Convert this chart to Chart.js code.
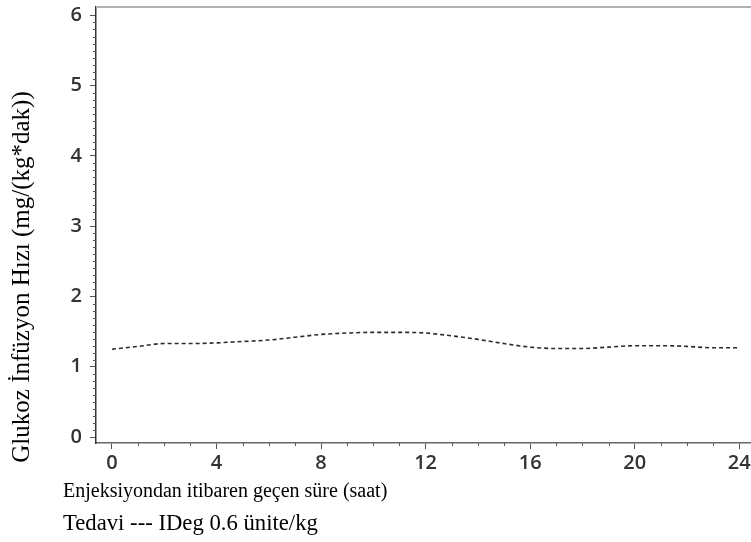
<!DOCTYPE html>
<html lang="tr">
<head>
  <meta charset="UTF-8" />
  <title>Glukoz İnfüzyon Hızı</title>
  <script src="https://cdn.jsdelivr.net/npm/chart.js"></script>
  <style>
    html, body { margin: 0; padding: 0; background: #fff; }
    #kutu { width: 751px; height: 542px; }
  </style>
</head>
<body>
<div id="kutu"><canvas id="graf"></canvas></div>
<script>
  // veriler
  const saatler = [0, 1, 2, 3, 4, 5, 6, 7, 8, 9, 10, 11, 12, 13, 14, 15, 16, 17, 18, 19, 20, 21, 22, 23, 24];
  const gir = [1.25, 1.29, 1.33, 1.33, 1.34, 1.36, 1.38, 1.42, 1.46, 1.48, 1.49, 1.49, 1.48, 1.44, 1.39, 1.33, 1.28, 1.26, 1.26, 1.28, 1.30, 1.30, 1.29, 1.27, 1.27];
  const xTicks = [0, 4, 8, 12, 16, 20, 24];
  const yTicks = [0, 1, 2, 3, 4, 5, 6];

  const yBaslik = 'Glukoz İnfüzyon Hızı (mg/(kg*dak))';
  const xBaslik = 'Enjeksiyondan itibaren geçen süre (saat)';
  const aciklama = 'Tedavi --- IDeg 0.6 ünite/kg';

  const serif = '"Liberation Serif", "Times New Roman", serif';
  const tickFont = { family: '"Open Sans"', size: 20, weight: '600' };

  // küçük çentikler ve metinler
  const ekler = {
    id: 'ekler',
    afterDraw(chart) {
      const ctx = chart.ctx;
      const a = chart.chartArea;
      const xs = chart.scales.x, ys = chart.scales.y;
      ctx.save();
      // üst çerçeve
      ctx.strokeStyle = '#b0b0b0';
      ctx.lineWidth = 2;
      ctx.beginPath();
      ctx.moveTo(a.left, a.top);
      ctx.lineTo(a.right, a.top);
      ctx.stroke();
      // küçük çentikler
      ctx.strokeStyle = '#555';
      ctx.lineWidth = 1;
      ctx.beginPath();
      for (let h = 0; h <= 24; h++) {
        if (h % 4 === 0) continue;
        const px = Math.round(xs.getPixelForValue(h)) + 0.5;
        ctx.moveTo(px, a.bottom);
        ctx.lineTo(px, a.bottom + 3);
      }
      for (let i = 0; i <= 60; i++) {
        if (i % 10 === 0) continue;
        const py = Math.round(ys.getPixelForValue(i / 10)) + 0.5;
        ctx.moveTo(a.left, py);
        ctx.lineTo(a.left - 3, py);
      }
      ctx.stroke();
      // başlıklar
      ctx.fillStyle = '#000';
      ctx.font = '20px ' + serif;
      ctx.textAlign = 'left';
      ctx.textBaseline = 'alphabetic';
      ctx.fillText(xBaslik, 63, 497);
      ctx.font = '22.7px ' + serif;
      ctx.fillText(aciklama, 63, 530);
      ctx.translate(29, 277);
      ctx.rotate(-Math.PI / 2);
      ctx.font = '25px ' + serif;
      ctx.textAlign = 'center';
      ctx.fillText(yBaslik, 0, 0);
      ctx.restore();
    }
  };

  const kenarSifir = s => { s.paddingTop = 0; s.paddingBottom = 0; s.paddingLeft = 0; s.paddingRight = 0; };

  new Chart(document.getElementById('graf'), {
    type: 'line',
    data: {
      labels: saatler,
      datasets: [{
        data: saatler.map((s, i) => ({ x: s, y: gir[i] })),
        borderColor: '#2a2a2a',
        borderWidth: 1.6,
        borderDash: [4, 3],
        pointRadius: 0,
        fill: false,
        cubicInterpolationMode: 'monotone'
      }]
    },
    options: {
      responsive: true,
      maintainAspectRatio: false,
      animation: false,
      layout: { padding: { top: 7, right: 0, bottom: 0, left: 0 } },
      plugins: { legend: { display: false }, tooltip: { enabled: false } },
      scales: {
        x: {
          type: 'linear',
          min: -0.61,
          max: 24.45,
          afterBuildTicks: s => { s.ticks = xTicks.map(v => ({ value: v })); },
          afterFit: s => { s.height = 99; kenarSifir(s); },
          grid: { drawOnChartArea: false, tickLength: 6, color: '#555' },
          border: { color: '#666', width: 1.5 },
          ticks: { color: '#333', padding: 2, font: tickFont }
        },
        y: {
          min: -0.085,
          max: 6.12,
          afterBuildTicks: s => { s.ticks = yTicks.map(v => ({ value: v })); },
          afterFit: s => { s.width = 96; kenarSifir(s); },
          grid: { drawOnChartArea: false, tickLength: 6, color: '#555' },
          border: { color: '#333', width: 1.5 },
          ticks: { color: '#333', padding: 8, font: tickFont }
        }
      }
    },
    plugins: [ekler]
  });
</script>
</body>
</html>
